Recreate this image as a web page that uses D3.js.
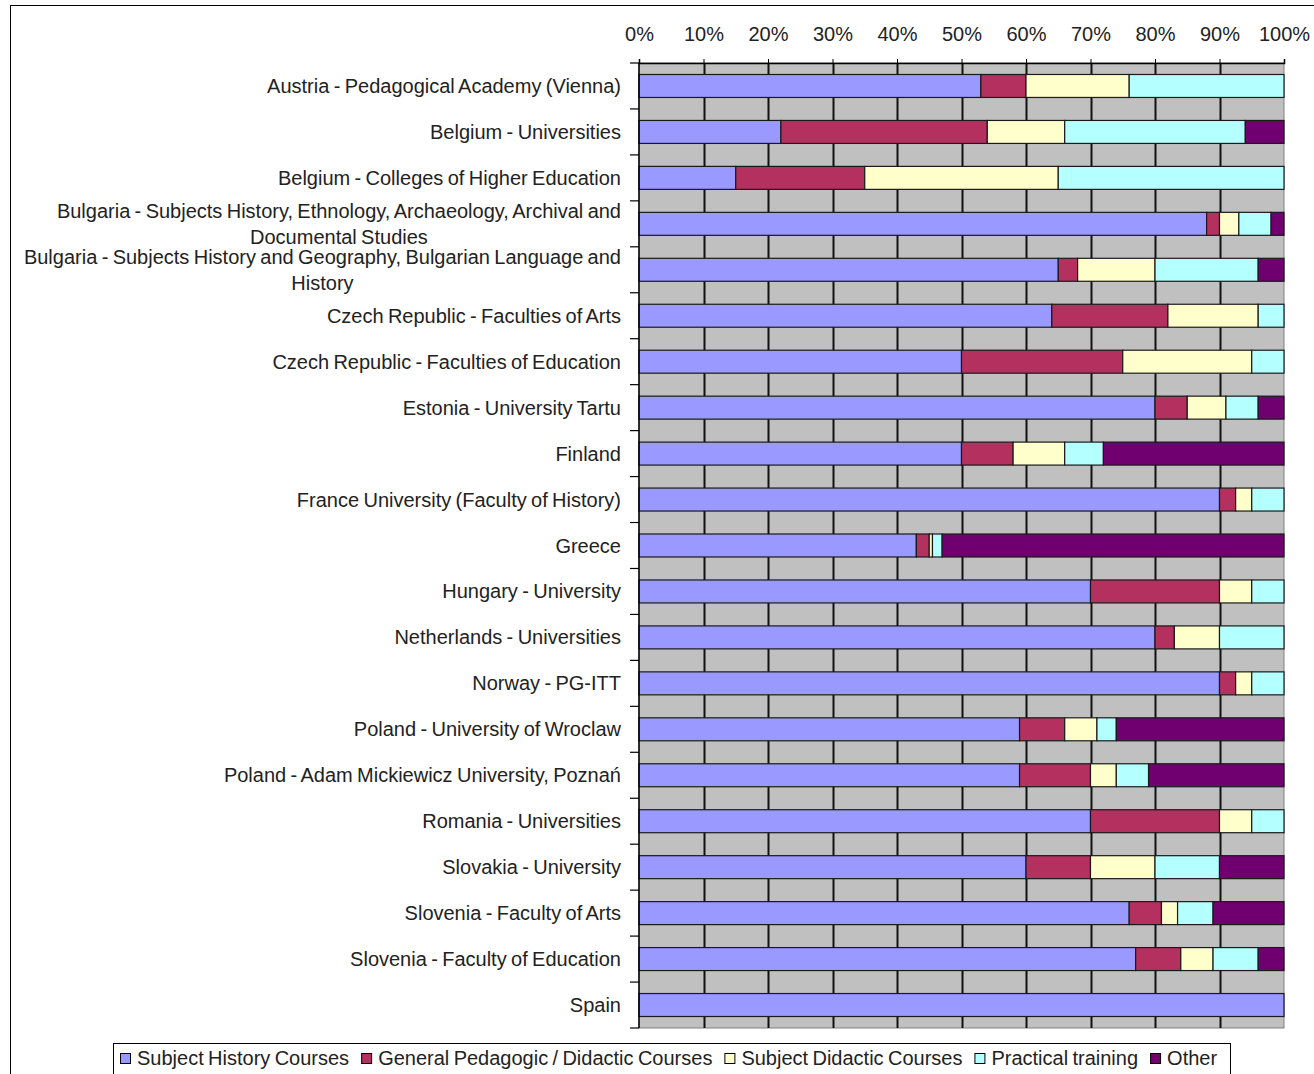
<!DOCTYPE html>
<html>
<head>
<meta charset="utf-8">
<script src="https://cdn.jsdelivr.net/npm/d3@7/dist/d3.min.js"></script>
<style>
  html, body { margin: 0; padding: 0; background: #fff; }
  svg { display: block; font-family: "Liberation Sans", Arial, sans-serif; }
</style>
</head>
<body>
<script>
const categories = [
  "Austria - Pedagogical Academy (Vienna)",
  "Belgium - Universities",
  "Belgium - Colleges  of Higher Education",
  "Bulgaria - Subjects History, Ethnology, Archaeology, Archival and Documental Studies",
  "Bulgaria - Subjects History and Geography, Bulgarian Language and History",
  "Czech Republic - Faculties of Arts",
  "Czech Republic - Faculties of Education",
  "Estonia - University Tartu",
  "Finland",
  "France University (Faculty of History)",
  "Greece",
  "Hungary - University",
  "Netherlands - Universities",
  "Norway - PG-ITT",
  "Poland - University of Wroclaw",
  "Poland  - Adam Mickiewicz University, Poznań",
  "Romania - Universities",
  "Slovakia - University",
  "Slovenia - Faculty of Arts",
  "Slovenia - Faculty of Education",
  "Spain"
];
const seriesNames = ["Subject History Courses", "General Pedagogic / Didactic Courses", "Subject Didactic Courses", "Practical training", "Other"];
const subjectHistory   = [53, 22, 15, 88, 65, 64, 50, 80, 50, 90, 43, 70, 80, 90, 59, 59, 70, 60, 76, 77, 100];
const generalPedagogic = [7, 32, 20, 2, 3, 18, 25, 5, 8, 2.5, 2, 20, 3, 2.5, 7, 11, 20, 10, 5, 7, 0];
const subjectDidactic  = [16, 12, 30, 3, 12, 14, 20, 6, 8, 2.5, 0.5, 5, 7, 2.5, 5, 4, 5, 10, 2.5, 5, 0];
const practical        = [24, 28, 35, 5, 16, 4, 5, 5, 6, 5, 1.5, 5, 10, 5, 3, 5, 5, 10, 5.5, 7, 0];
const other            = [0, 6, 0, 2, 4, 0, 0, 4, 28, 0, 53, 0, 0, 0, 26, 21, 0, 10, 11, 4, 0];
const tickValues = [0, 0.1, 0.2, 0.3, 0.4, 0.5, 0.6, 0.7, 0.8, 0.9, 1.0];
const colors = ["#9999FF", "#B3305F", "#FFFFCC", "#B4FFFF", "#700070"];

(function () {
const W = 1314, H = 1074;
const FS = 20, WS = -1.2;
const svg = d3.select("body").append("svg").attr("width", W).attr("height", H);

// outer chart border
svg.append("rect").attr("x", 10.5).attr("y", 5.5).attr("width", 1320).attr("height", 1100)
  .attr("fill", "#fff").attr("stroke", "#000").attr("stroke-width", 1);

const pLeft = 639, pRight = 1284, pTop = 63, pBottom = 1028;
const x = d3.scaleLinear().domain([0, 1]).range([pLeft, pRight]);
const y = d3.scaleBand().domain(categories).range([pTop, pBottom]).paddingInner(0.5).paddingOuter(0.25);

const rows = categories.map((c, i) => {
  const vals = [subjectHistory[i], generalPedagogic[i], subjectDidactic[i], practical[i], other[i]];
  const obj = { cat: c };
  seriesNames.forEach((s, k) => obj[s] = vals[k]);
  return obj;
});
const stacked = d3.stack().keys(seriesNames).offset(d3.stackOffsetExpand)(rows);

// plot background
svg.append("rect").attr("x", pLeft).attr("y", pTop).attr("width", pRight - pLeft).attr("height", pBottom - pTop)
  .attr("fill", "#C0C0C0").attr("stroke", "#808080").attr("stroke-width", 1);

// vertical gridlines
svg.append("g").selectAll("line").data(tickValues.slice(1, -1)).join("line")
  .attr("x1", d => Math.round(x(d)) + 0.5).attr("x2", d => Math.round(x(d)) + 0.5)
  .attr("y1", pTop).attr("y2", pBottom)
  .attr("stroke", "#111").attr("stroke-width", 2);

// bars
const g = svg.append("g");
stacked.forEach((layer, k) => {
  g.append("g").selectAll("rect").data(layer).join("rect")
    .attr("x", d => x(d[0]))
    .attr("width", d => Math.max(0, x(d[1]) - x(d[0])))
    .attr("y", (d, i) => y(categories[i]))
    .attr("height", y.bandwidth())
    .attr("fill", colors[k])
    .attr("stroke", d => (d[1] - d[0]) > 0 ? "#1a1a1a" : "none")
    .attr("stroke-width", 1.2);
});

// top axis
const xAxis = d3.axisTop(x).tickValues(tickValues).tickFormat(d3.format(".0%")).tickSize(4).tickPadding(18);
const xg = svg.append("g").attr("transform", `translate(0,${pTop})`).call(xAxis);
xg.select(".domain").attr("stroke", "#000").attr("stroke-width", 1.5);
xg.selectAll(".tick line").attr("stroke", "#000");
xg.selectAll("text").attr("font-size", FS).attr("fill", "#222")
  .attr("font-family", "'Liberation Sans', Arial, sans-serif");

// left axis
const yBoundaries = d3.range(categories.length + 1).map(i => pTop + i * y.step());
svg.append("line").attr("x1", pLeft).attr("x2", pLeft).attr("y1", pTop).attr("y2", pBottom)
  .attr("stroke", "#000").attr("stroke-width", 1.5);
svg.append("g").selectAll("line").data(yBoundaries).join("line")
  .attr("x1", pLeft - 9).attr("x2", pLeft).attr("y1", d => d).attr("y2", d => d)
  .attr("stroke", "#000").attr("stroke-width", 1.2);

// category labels with wrapping
const labelRight = 621, maxW = 610, lineH = 26;
const lg = svg.append("g").attr("font-size", FS).attr("fill", "#222").attr("word-spacing", WS);
categories.forEach(c => {
  const words = c.split(/ +/);
  const probe = lg.append("text");
  const lines = [];
  let cur = [];
  words.forEach(w => {
    const test = cur.concat(w).join(" ");
    probe.text(test);
    if (probe.node().getComputedTextLength() > maxW && cur.length) {
      lines.push(cur.join(" ")); cur = [w];
    } else cur.push(w);
  });
  lines.push(cur.join(" "));
  const widths = lines.map(l => { probe.text(l); return probe.node().getComputedTextLength(); });
  probe.remove();
  const mw = d3.max(widths);
  const cy = y(c) + y.bandwidth() / 2;
  const t = lg.append("text")
    .attr("text-anchor", lines.length > 1 ? "middle" : "end")
    .attr("dominant-baseline", "central");
  lines.forEach((l, i) => {
    t.append("tspan")
      .attr("x", lines.length > 1 ? labelRight - mw / 2 : labelRight)
      .attr("y", cy + (i - (lines.length - 1) / 2) * lineH)
      .text(l);
  });
});

// legend
const legG = svg.append("g").attr("word-spacing", WS);
legG.append("rect").attr("x", 113.5).attr("y", 1043.5).attr("width", 1117).attr("height", 40)
  .attr("fill", "#fff").attr("stroke", "#000").attr("stroke-width", 1);
let lx = 120;
seriesNames.forEach((s, k) => {
  legG.append("rect").attr("x", lx + 0.5).attr("y", 1053.5).attr("width", 10).attr("height", 10)
    .attr("fill", colors[k]).attr("stroke", "#000").attr("stroke-width", 1);
  const t = legG.append("text").attr("x", lx + 17).attr("y", 1065).attr("font-size", FS)
    .attr("fill", "#222").text(s);
  lx += 17 + t.node().getComputedTextLength() + 12;
});
})();
</script>
</body>
</html>
